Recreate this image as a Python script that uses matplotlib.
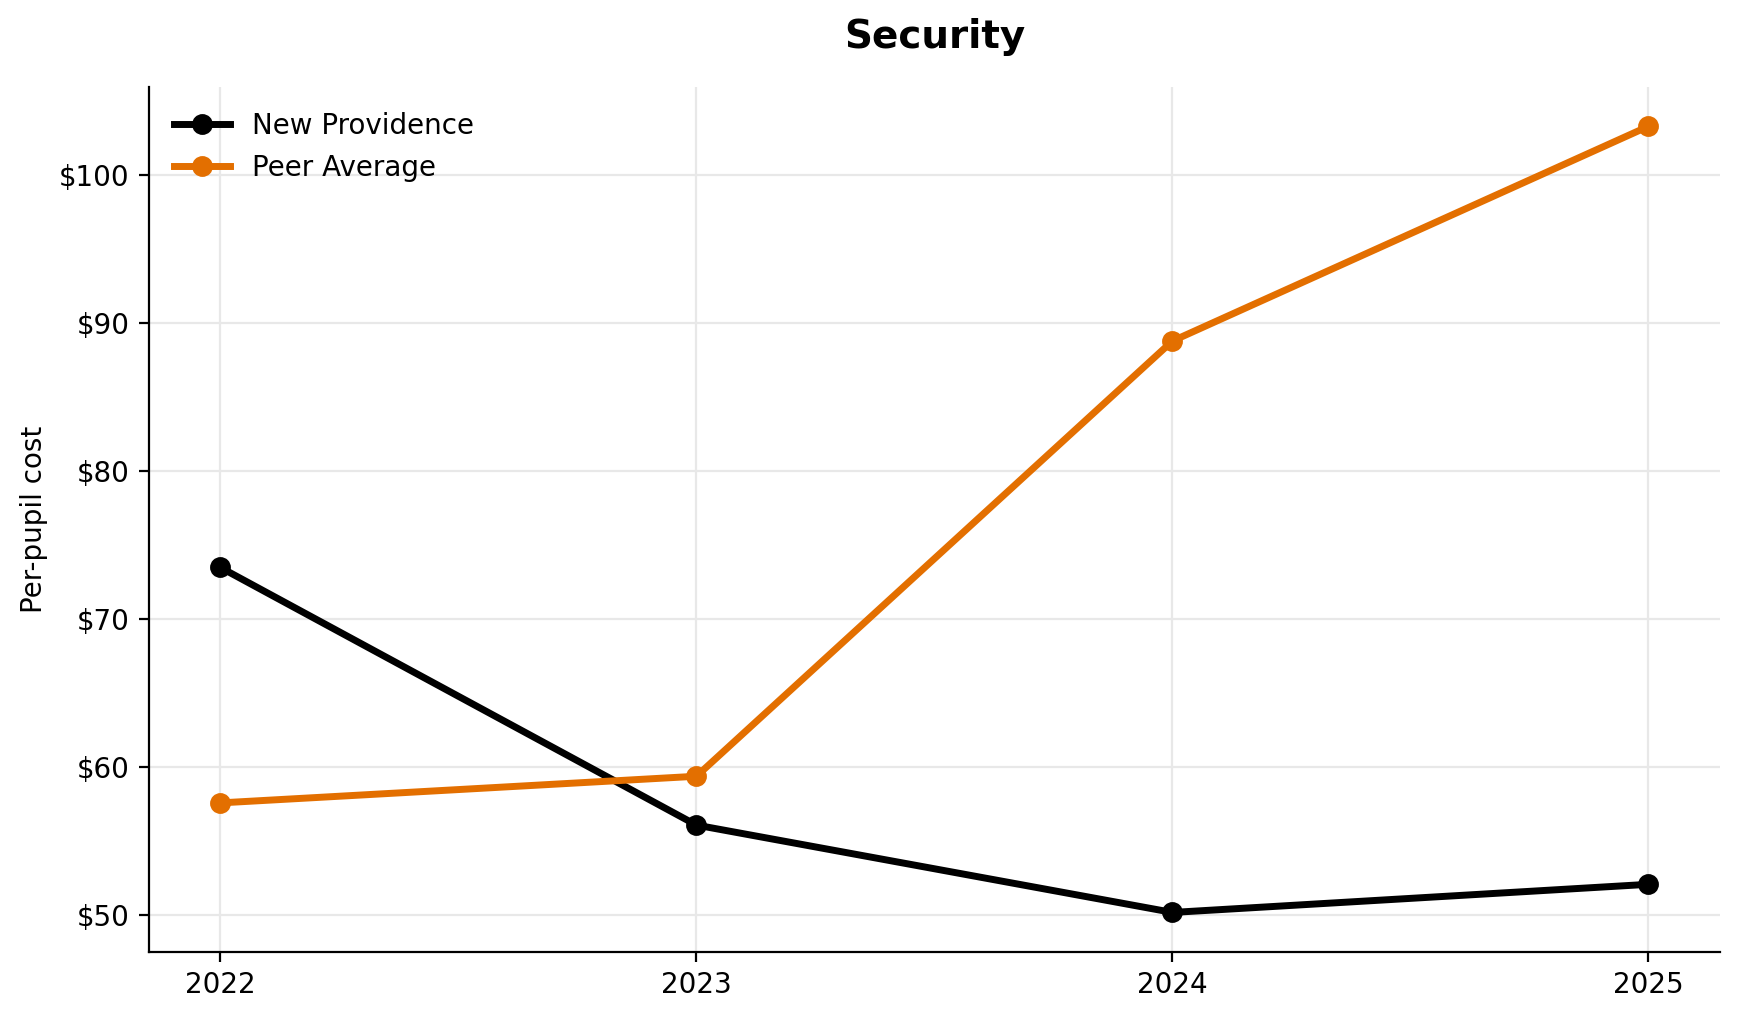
import matplotlib
matplotlib.use("Agg")
import matplotlib.pyplot as plt
from matplotlib.ticker import FuncFormatter

years = [2022, 2023, 2024, 2025]
new_providence = [73.5, 56.1, 50.2, 52.1]
peer_average = [57.6, 59.4, 88.8, 103.3]

fig, ax = plt.subplots(figsize=(8.695, 5.095), dpi=200)
fig.subplots_adjust(left=0.0857, right=0.989, bottom=0.066, top=0.9146)

ax.plot(years, new_providence, color="black", lw=2.5, marker="o", ms=6.5, label="New Providence")
ax.plot(years, peer_average, color="#E36F00", lw=2.5, marker="o", ms=6.5, label="Peer Average")

ax.set_title("Security", fontsize=14, fontweight="bold", pad=14)
ax.set_ylabel("Per-pupil cost", fontsize=10)
ax.set_xticks(years)
ax.yaxis.set_major_formatter(FuncFormatter(lambda v, p: f"${v:.0f}"))
ax.tick_params(labelsize=10)
ax.grid(True, color="#e8e8e8", lw=0.8)
ax.set_axisbelow(True)
for s in ["top", "right"]:
    ax.spines[s].set_visible(False)
ax.legend(loc="upper left", frameon=False, fontsize=10)

fig.savefig("out.png", dpi=200)
